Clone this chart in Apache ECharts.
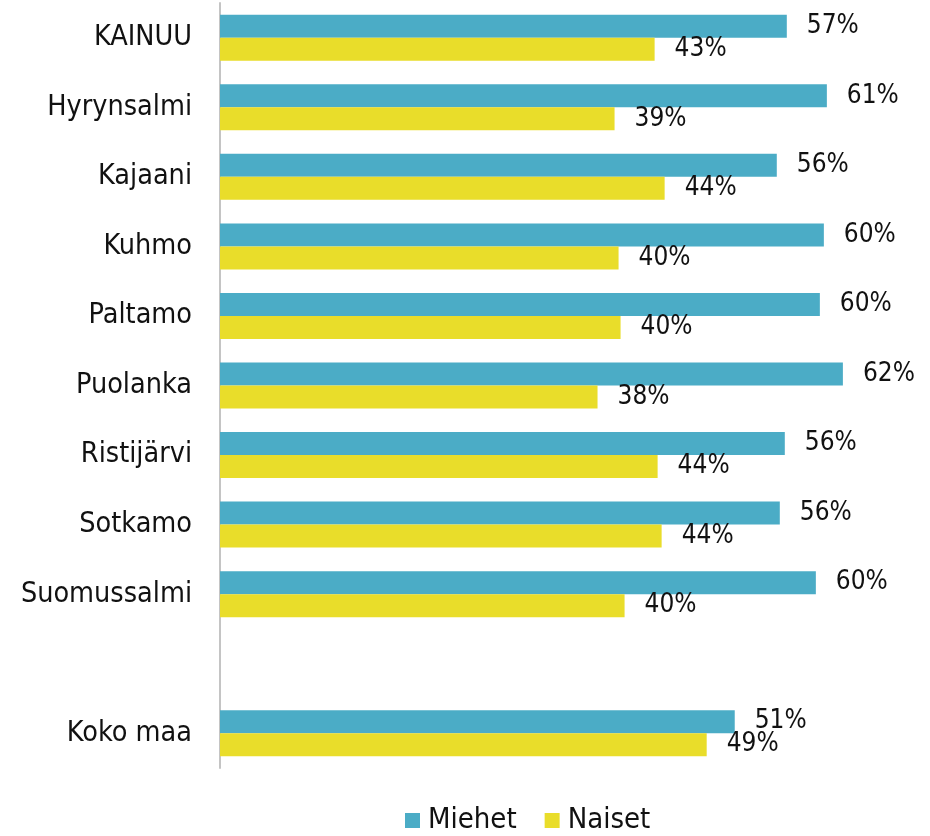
<!DOCTYPE html>
<html>
<head>
<meta charset="utf-8">
<script src="https://cdn.jsdelivr.net/npm/echarts@6/dist/echarts.min.js"></script>
<style>
  html, body { margin: 0; padding: 0; background: #fff; }
  #chart { width: 930px; height: 836px; }
</style>
</head>
<body>
<div id="chart"></div>
<script>
// alueet, tyhjä rivi ennen koko maata
const alueet = ['KAINUU', 'Hyrynsalmi', 'Kajaani', 'Kuhmo', 'Paltamo', 'Puolanka', 'Ristijärvi', 'Sotkamo', 'Suomussalmi', '', 'Koko maa'];
// osuudet (%), luettu palkkien pituuksista
const miehet = [56.6, 60.6, 55.6, 60.3, 59.9, 62.2, 56.4, 55.9, 59.5, null, 51.4];
const naiset = [43.4, 39.4, 44.4, 39.8, 40.0, 37.7, 43.7, 44.1, 40.4, null, 48.6];

const axisFont = '"DejaVu Sans Condensed", "DejaVu Sans", sans-serif';

const chart = echarts.init(document.getElementById('chart'));

const barLabel = {
  show: true,
  position: 'right',
  distance: 20,
  color: '#111',
  fontFamily: axisFont,
  fontSize: 26,
  formatter: p => Math.round(p.value) + '%'
};

chart.setOption({
  animation: false,
  color: ['#4BACC6', '#E9DD2A'],
  grid: { left: 220, top: 3, width: 701, height: 765, containLabel: false },
  legend: {
    data: ['Miehet', 'Naiset'],
    left: 405,
    top: 806,
    padding: 0,
    icon: 'rect',
    itemWidth: 15,
    itemHeight: 15,
    itemGap: 28,
    textStyle: { color: '#111', fontFamily: axisFont, fontSize: 29, padding: [0, 0, 0, 3] }
  },
  xAxis: {
    type: 'value',
    min: 0,
    max: 70,
    show: false
  },
  yAxis: {
    type: 'category',
    data: alueet,
    inverse: true,
    axisLine: { show: true, lineStyle: { color: '#C4C4C4', width: 2 } },
    axisTick: { show: false },
    axisLabel: { color: '#111', fontFamily: axisFont, fontSize: 28.5, margin: 28 },
    splitLine: { show: false }
  },
  series: [
    {
      name: 'Miehet',
      type: 'bar',
      data: miehet,
      barWidth: 23,
      barGap: '0%',
      label: barLabel
    },
    {
      name: 'Naiset',
      type: 'bar',
      data: naiset,
      barWidth: 23,
      label: barLabel
    }
  ]
});
</script>
</body>
</html>
